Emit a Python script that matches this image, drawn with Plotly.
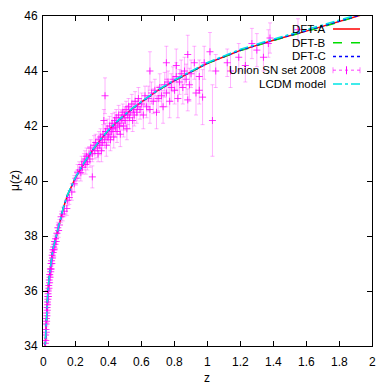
import plotly.graph_objects as go

# model curves (they almost sit on top of each other)
z_model = [0.01, 0.02, 0.03, 0.04, 0.05, 0.06, 0.075, 0.1, 0.125, 0.15, 0.175, 0.2, 0.25,
           0.3, 0.35, 0.4, 0.45, 0.5, 0.55, 0.6, 0.7, 0.8, 0.9, 1.0, 1.2, 1.4, 1.6, 1.8, 1.9, 2.0]
mu_dft_a = [33.6, 35.1, 36.0, 36.6, 37.1, 37.5, 37.85, 38.5, 39.05, 39.5, 39.85, 40.15, 40.65,
            41.1, 41.5, 41.85, 42.15, 42.42, 42.66, 42.88, 43.3, 43.65, 43.98, 44.28, 44.75,
            45.12, 45.45, 45.8, 46.0, 46.15]
mu_dft_b = [33.6, 35.1, 36.0, 36.6, 37.1, 37.5, 37.85, 38.5, 39.05, 39.5, 39.85, 40.15, 40.65,
            41.1, 41.5, 41.85, 42.15, 42.42, 42.66, 42.88, 43.3, 43.65, 43.98, 44.28, 44.74,
            45.11, 45.44, 45.78, 45.98, 46.13]
mu_dft_c = [33.6, 35.1, 36.0, 36.6, 37.1, 37.5, 37.85, 38.5, 39.05, 39.5, 39.85, 40.15, 40.65,
            41.1, 41.5, 41.85, 42.15, 42.42, 42.66, 42.88, 43.3, 43.66, 43.99, 44.29, 44.76,
            45.13, 45.46, 45.81, 46.01, 46.16]
mu_lcdm = [33.62, 35.12, 36.02, 36.62, 37.12, 37.52, 37.87, 38.52, 39.07, 39.52, 39.87, 40.17,
           40.67, 41.12, 41.52, 41.87, 42.17, 42.44, 42.68, 42.9, 43.32, 43.68, 44.01, 44.31,
           44.79, 45.16, 45.5, 45.85, 46.05, 46.2]

# Union SN set 2008
z_sn = [0.013, 0.015, 0.016, 0.017, 0.018, 0.019, 0.020, 0.021, 0.022, 0.023,
        0.024, 0.025, 0.026, 0.027, 0.028, 0.029, 0.030, 0.031, 0.032, 0.033,
        0.035, 0.036, 0.038, 0.040, 0.041, 0.043, 0.045, 0.047, 0.049, 0.050,
        0.052, 0.054, 0.056, 0.058, 0.060, 0.062, 0.065, 0.068, 0.070, 0.073,
        0.076, 0.080, 0.085, 0.090, 0.095, 0.100, 0.110, 0.120, 0.130, 0.145,
        0.150, 0.160, 0.175, 0.190, 0.200, 0.210, 0.220, 0.230, 0.235, 0.240,
        0.250, 0.255, 0.260, 0.265, 0.270, 0.280, 0.285, 0.290, 0.300, 0.300,
        0.310, 0.315, 0.320, 0.330, 0.335, 0.340, 0.345, 0.350, 0.355, 0.360,
        0.365, 0.370, 0.375, 0.377, 0.380, 0.385, 0.390, 0.395, 0.400, 0.405,
        0.410, 0.415, 0.420, 0.425, 0.430, 0.435, 0.440, 0.445, 0.450, 0.455,
        0.460, 0.465, 0.470, 0.475, 0.480, 0.485, 0.490, 0.495, 0.500, 0.505,
        0.510, 0.515, 0.520, 0.525, 0.530, 0.540, 0.545, 0.550, 0.555, 0.560,
        0.570, 0.575, 0.580, 0.590, 0.600, 0.610, 0.620, 0.630, 0.640, 0.650,
        0.650, 0.660, 0.670, 0.680, 0.690, 0.700, 0.710, 0.720, 0.730, 0.740,
        0.750, 0.750, 0.760, 0.770, 0.780, 0.790, 0.800, 0.810, 0.810, 0.820,
        0.830, 0.840, 0.850, 0.860, 0.870, 0.880, 0.880, 0.890, 0.900, 0.920,
        0.930, 0.950, 0.950, 0.970, 0.980, 1.015, 1.030, 1.050, 1.120, 1.140,
        1.190, 1.230, 1.270, 1.300, 1.340, 1.370, 1.380, 1.550]
mu_sn = [33.9, 34.1, 34.4, 34.2, 34.6, 34.8, 34.5, 35.0, 34.9, 35.2,
         35.1, 35.4, 35.3, 35.6, 35.5, 35.8, 35.7, 35.9, 36.0, 35.8,
         36.2, 36.1, 36.4, 36.3, 36.6, 36.5, 36.8, 36.7, 37.0, 36.8,
         37.1, 37.0, 37.3, 37.2, 37.5, 37.4, 37.6, 37.5, 37.8, 37.7,
         37.9, 37.8, 38.1, 38.3, 38.2, 38.4, 38.7, 38.8, 38.9, 39.0,
         39.3, 39.4, 39.6, 39.9, 40.1, 40.3, 40.4, 40.3, 40.6, 40.5,
         40.7, 40.8, 40.6, 40.9, 40.7, 40.95, 40.8, 41.2, 40.15, 41.0,
         41.3, 41.1, 41.4, 41.2, 41.0, 41.5, 41.3, 41.6, 41.1, 41.4,
         41.7, 42.2, 41.5, 43.1, 41.8, 41.3, 41.9, 41.6, 41.7, 42.0,
         41.5, 41.8, 42.1, 41.9, 41.6, 42.2, 41.95, 42.3, 41.8, 42.1,
         42.4, 42.0, 41.7, 42.3, 42.2, 42.5, 42.0, 42.4, 42.2, 42.6,
         41.9, 42.4, 42.7, 42.3, 42.5, 42.8, 42.2, 42.6, 42.4, 42.9,
         42.5, 42.7, 43.0, 42.6, 42.8, 42.4, 43.1, 42.7, 43.0, 42.6,
         44.0, 43.2, 42.9, 43.3, 42.5, 43.0, 43.4, 43.1, 42.7, 43.5,
         43.2, 44.3, 43.6, 42.9, 43.4, 43.7, 43.3, 43.8, 44.2, 43.0,
         43.6, 43.9, 43.4, 44.0, 43.7, 44.6, 42.95, 43.5, 43.9, 44.3,
         43.2, 43.8, 43.3, 43.05, 44.3, 44.7, 42.2, 44.0, 44.3, 44.0,
         44.5, 44.2, 45.0, 44.76, 44.5, 45.0, 45.2, 45.5]
err_sn = [0.2, 0.2, 0.2, 0.25, 0.2, 0.2, 0.25, 0.2, 0.2, 0.2,
          0.25, 0.2, 0.2, 0.2, 0.25, 0.2, 0.2, 0.2, 0.2, 0.25,
          0.2, 0.2, 0.2, 0.25, 0.2, 0.2, 0.2, 0.2, 0.2, 0.25,
          0.2, 0.2, 0.2, 0.25, 0.2, 0.2, 0.2, 0.25, 0.2, 0.2,
          0.2, 0.25, 0.2, 0.2, 0.25, 0.2, 0.2, 0.25, 0.2, 0.25,
          0.2, 0.25, 0.3, 0.3, 0.25, 0.3, 0.3, 0.3, 0.3, 0.25,
          0.3, 0.3, 0.35, 0.3, 0.3, 0.3, 0.3, 0.3, 0.4, 0.3,
          0.35, 0.3, 0.3, 0.35, 0.3, 0.3, 0.35, 0.3, 0.4, 0.3,
          0.35, 0.4, 0.3, 0.65, 0.3, 0.4, 0.35, 0.3, 0.3, 0.35,
          0.4, 0.3, 0.35, 0.3, 0.4, 0.3, 0.35, 0.3, 0.4, 0.3,
          0.35, 0.3, 0.45, 0.3, 0.35, 0.3, 0.4, 0.3, 0.35, 0.3,
          0.4, 0.35, 0.3, 0.4, 0.3, 0.35, 0.4, 0.3, 0.4, 0.35,
          0.4, 0.3, 0.4, 0.35, 0.4, 0.5, 0.35, 0.4, 0.45, 0.5,
          0.7, 0.4, 0.45, 0.4, 0.6, 0.45, 0.5, 0.4, 0.6, 0.45,
          0.5, 0.6, 0.4, 0.6, 0.5, 0.45, 0.5, 0.5, 0.6, 0.7,
          0.45, 0.5, 0.6, 0.5, 0.55, 0.7, 0.4, 0.6, 0.5, 0.6,
          0.8, 0.6, 0.5, 1.0, 0.6, 0.7, 1.3, 0.6, 0.5, 0.6,
          0.5, 0.6, 0.55, 0.6, 0.5, 0.5, 0.55, 0.4]

x_ticks = [0, 0.2, 0.4, 0.6, 0.8, 1, 1.2, 1.4, 1.6, 1.8, 2]
x_tick_labels = ["0", "0.2", "0.4", "0.6", "0.8", "1", "1.2", "1.4", "1.6", "1.8", "2"]
legend_names = ["DFT-A", "DFT-B", "DFT-C", "Union SN set 2008", "LCDM model"]

fig = go.Figure()

fig.add_trace(go.Scatter(x=z_model, y=mu_dft_a, mode="lines",
                         line=dict(color="#ff0000", width=1.5)))
fig.add_trace(go.Scatter(x=z_model, y=mu_dft_b, mode="lines",
                         line=dict(color="#00dd00", width=1.5, dash="dash")))
fig.add_trace(go.Scatter(x=z_model, y=mu_dft_c, mode="lines",
                         line=dict(color="#0000ff", width=1.5, dash="dot")))
fig.add_trace(go.Scatter(
    x=z_sn, y=mu_sn, mode="markers",
    marker=dict(symbol="cross-thin-open", size=5, color="rgba(255,0,255,0.8)",
                line=dict(color="rgba(255,0,255,0.8)", width=1)),
    error_y=dict(type="data", array=err_sn, color="rgba(255,0,255,0.3)", thickness=1, width=2),
))
fig.add_trace(go.Scatter(x=z_model, y=mu_lcdm, mode="lines",
                         line=dict(color="#00e5e5", width=1.5, dash="dashdot")))

# the page body adds an 8px offset, so the figure is 380 wide and positions are shifted
OFF = 8
W = 380
# plot area in screen pixels: x 43..372, y 16..346
PX0, PX1, PY0, PY1 = 43 - OFF, 372 - OFF, 16 - OFF, 346 - OFF


def px(xs):
    return (xs - OFF - PX0) / (PX1 - PX0)


def py(ys):
    return (PY1 - (ys - OFF)) / (PY1 - PY0)


# gnuplot-style key: text on the left, line sample on the right
key_y = [29, 42.75, 56.5, 70.25, 84]
key_style = [("#ff0000", None), ("#00dd00", "dash"), ("#0000ff", "dot"),
             ("rgba(255,0,255,0.5)", "dot"), ("#00e5e5", "dashdot")]
for name, ky, (col, dash) in zip(legend_names, key_y, key_style):
    fig.add_annotation(x=px(327), y=py(ky), xref="paper", yref="paper", text=name,
                       showarrow=False, xanchor="right", yanchor="middle", borderpad=0,
                       font=dict(size=11.5, color="black"))
    fig.add_shape(type="line", xref="paper", yref="paper", x0=px(333), x1=px(360),
                  y0=py(ky), y1=py(ky), line=dict(color=col, width=1.5, dash=dash))
# point marker and caps in the Union key sample
for xs, h, col in [(346.5, 4, "#ff00ff"), (333, 3, "rgba(255,0,255,0.5)"),
                   (360, 3, "rgba(255,0,255,0.5)")]:
    fig.add_shape(type="line", xref="paper", yref="paper", x0=px(xs), x1=px(xs),
                  y0=py(70.25 - h), y1=py(70.25 + h), line=dict(color=col, width=1))

# x tick labels sit a bit lower than plotly puts them
for xv, lab in zip(x_ticks, x_tick_labels):
    fig.add_annotation(x=xv, y=py(362), xref="x", yref="paper", text=lab, showarrow=False,
                       xanchor="center", yanchor="middle", borderpad=0, font=dict(size=12))

# axis titles
fig.add_annotation(x=px(207), y=py(378), xref="paper", yref="paper", text="z",
                   showarrow=False, xanchor="center", yanchor="middle", font=dict(size=12))
fig.add_annotation(x=px(15), y=py(181), xref="paper", yref="paper", text="μ(z)",
                   showarrow=False, textangle=-90, xanchor="center", yanchor="middle",
                   font=dict(size=12))

axis_style = dict(showline=True, linecolor="black", linewidth=1, mirror="ticks",
                  ticks="inside", ticklen=5, tickcolor="black", showgrid=False,
                  zeroline=False, automargin=False, tickfont=dict(size=12, color="black"))

fig.update_xaxes(range=[0, 2], tickvals=x_ticks, showticklabels=False, **axis_style)
fig.update_yaxes(range=[34, 46], dtick=2, tick0=34, ticklabelstandoff=2, **axis_style)

fig.update_layout(
    width=W, height=W,
    margin=dict(l=PX0, r=W - PX1, t=PY0, b=W - PY1),
    paper_bgcolor="white", plot_bgcolor="white",
    showlegend=False,
    font=dict(family="Liberation Sans, Arial, sans-serif", size=12, color="black"),
)

fig.write_html("out.html")
